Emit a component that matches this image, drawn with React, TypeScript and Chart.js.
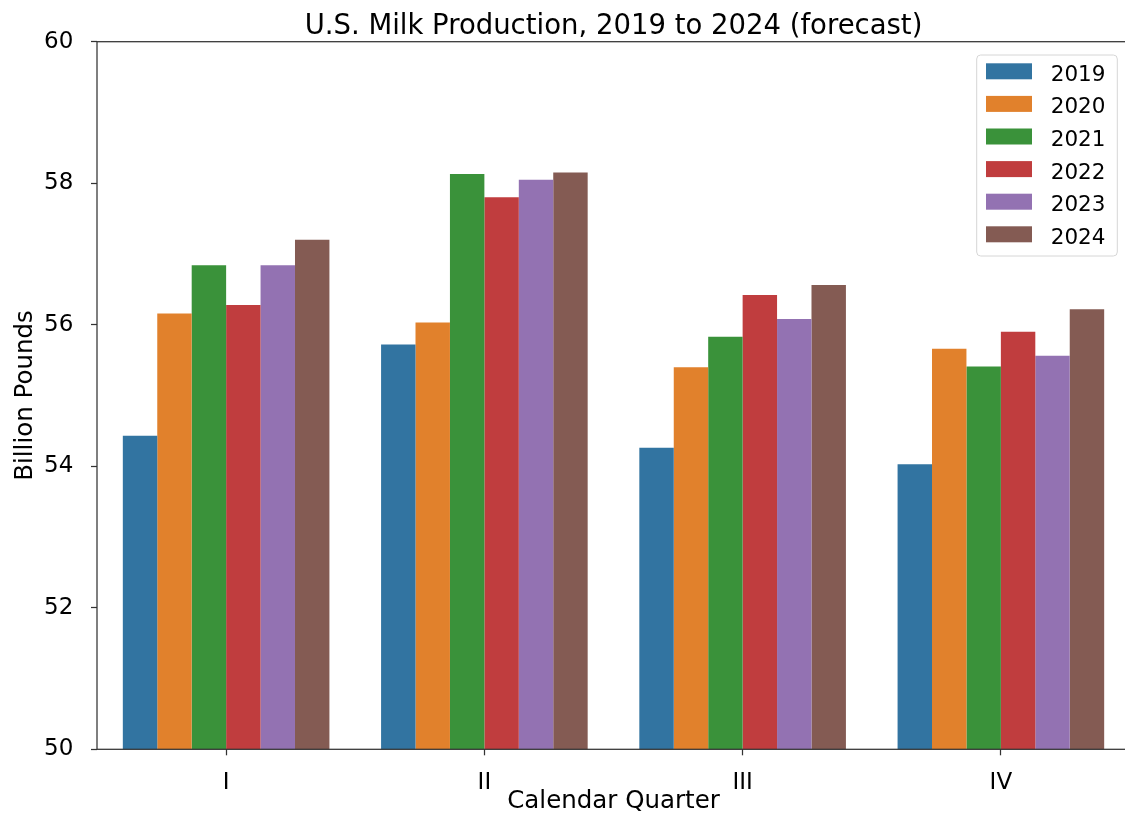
import React, { useEffect, useRef } from 'react';
import { Chart, registerables } from 'chart.js';

Chart.register(...registerables);

const quarters = ['I', 'II', 'III', 'IV'];
const years = ['2019', '2020', '2021', '2022', '2023', '2024'];
const v2019 = [54.43, 55.72, 54.26, 54.03];
const v2020 = [56.16, 56.03, 55.40, 55.66];
const v2021 = [56.84, 58.13, 55.83, 55.41];
const v2022 = [56.28, 57.80, 56.42, 55.90];
const v2023 = [56.84, 58.05, 56.08, 55.56];
const v2024 = [57.20, 58.15, 56.56, 56.22];
const seriesValues = [v2019, v2020, v2021, v2022, v2023, v2024];
const colors = ['#3274a1', '#e1812c', '#3a923a', '#c03d3e', '#9372b2', '#845b53'];
const yMin = 50;
const yMax = 60;
const yStep = 2;

const titleText = 'U.S. Milk Production, 2019 to 2024 (forecast)';
const xLabel = 'Calendar Quarter';
const yLabel = 'Billion Pounds';

const FONT = "'DejaVu Sans', 'Liberation Sans', sans-serif";
const SPINE = '#333333';

const framePlugin = {
  id: 'frameAndLegend',
  afterDatasetsDraw(chart: any) {
    const { ctx, chartArea: a } = chart;
    ctx.save();
    ctx.strokeStyle = SPINE;
    ctx.lineWidth = 1.25;
    ctx.strokeRect(a.left, a.top, a.right - a.left, a.bottom - a.top);
    ctx.restore();
  },
  afterDraw(chart: any) {
    const { ctx, chartArea: a } = chart;
    ctx.save();
    // title, centred over the plot area
    ctx.font = `27.5px ${FONT}`;
    ctx.fillStyle = '#000';
    ctx.textAlign = 'center';
    ctx.textBaseline = 'alphabetic';
    ctx.fillText(titleText, (a.left + a.right) / 2, a.top - 7.4);

    // legend
    const w = 140.6;
    const h = 201;
    const lx = a.right - 12.7 - w;
    const ly = a.top + 13.3;
    ctx.beginPath();
    if ((ctx as any).roundRect) {
      (ctx as any).roundRect(lx, ly, w, h, 4);
    } else {
      ctx.rect(lx, ly, w, h);
    }
    ctx.fillStyle = 'rgba(255,255,255,0.8)';
    ctx.fill();
    ctx.strokeStyle = '#d6d6d6';
    ctx.lineWidth = 1;
    ctx.stroke();
    ctx.font = `21.5px ${FONT}`;
    ctx.textBaseline = 'alphabetic';
    ctx.textAlign = 'left';
    chart.data.datasets.forEach((ds: any, i: number) => {
      ctx.fillStyle = ds.backgroundColor;
      ctx.fillRect(lx + 9.3, ly + 8.3 + i * 32.6, 46, 16);
      ctx.fillStyle = '#000';
      ctx.fillText(ds.label, lx + 74, ly + 25.7 + i * 32.6);
    });
    ctx.restore();
  },
};

export default function App() {
  const canvasRef = useRef<HTMLCanvasElement | null>(null);

  useEffect(() => {
    if (!canvasRef.current) return;
    const chart = new Chart(canvasRef.current, {
      type: 'bar',
      data: {
        labels: quarters,
        datasets: years.map((y, i) => ({
          label: y,
          data: seriesValues[i],
          backgroundColor: colors[i],
          borderWidth: 0,
          categoryPercentage: 0.8,
          barPercentage: 1.0,
        })),
      },
      options: {
        responsive: false,
        animation: false,
        devicePixelRatio: 1,
        layout: { padding: { top: 41.7, left: 0, right: 10, bottom: 0 } },
        plugins: {
          legend: { display: false },
          tooltip: { enabled: false },
          title: { display: false },
        },
        scales: {
          x: {
            type: 'category',
            offset: true,
            border: { display: false },
            grid: {
              display: true,
              offset: false,
              drawOnChartArea: false,
              drawTicks: true,
              tickLength: 6,
              tickColor: SPINE,
              tickWidth: 1.25,
            },
            ticks: {
              color: '#000',
              padding: 14,
              font: { family: FONT, size: 23 },
            },
            title: {
              display: true,
              text: xLabel,
              color: '#000',
              font: { family: FONT, size: 24.5 },
              padding: { top: 0, bottom: 5.3 },
            },
            afterFit: (scale: any) => {
              scale.height = 72.7;
            },
          },
          y: {
            min: yMin,
            max: yMax,
            border: { display: false },
            grid: {
              display: true,
              drawOnChartArea: false,
              drawTicks: true,
              tickLength: 6,
              tickColor: SPINE,
              tickWidth: 1.25,
            },
            ticks: {
              stepSize: yStep,
              color: '#000',
              padding: 17.7,
              font: { family: FONT, size: 23 },
            },
            title: {
              display: true,
              text: yLabel,
              color: '#000',
              font: { family: FONT, size: 24.5 },
              padding: { top: 11.3, bottom: 0 },
            },
            afterFit: (scale: any) => {
              scale.width = 97;
            },
          },
        },
      },
      plugins: [framePlugin],
    } as any);
    return () => chart.destroy();
  }, []);

  return (
    <div
      style={{
        position: 'fixed',
        left: 0,
        top: 0,
        width: 1125,
        height: 822,
        overflow: 'hidden',
        background: '#fff',
      }}
    >
      <canvas ref={canvasRef} width={1140} height={822} style={{ display: 'block' }} />
    </div>
  );
}
